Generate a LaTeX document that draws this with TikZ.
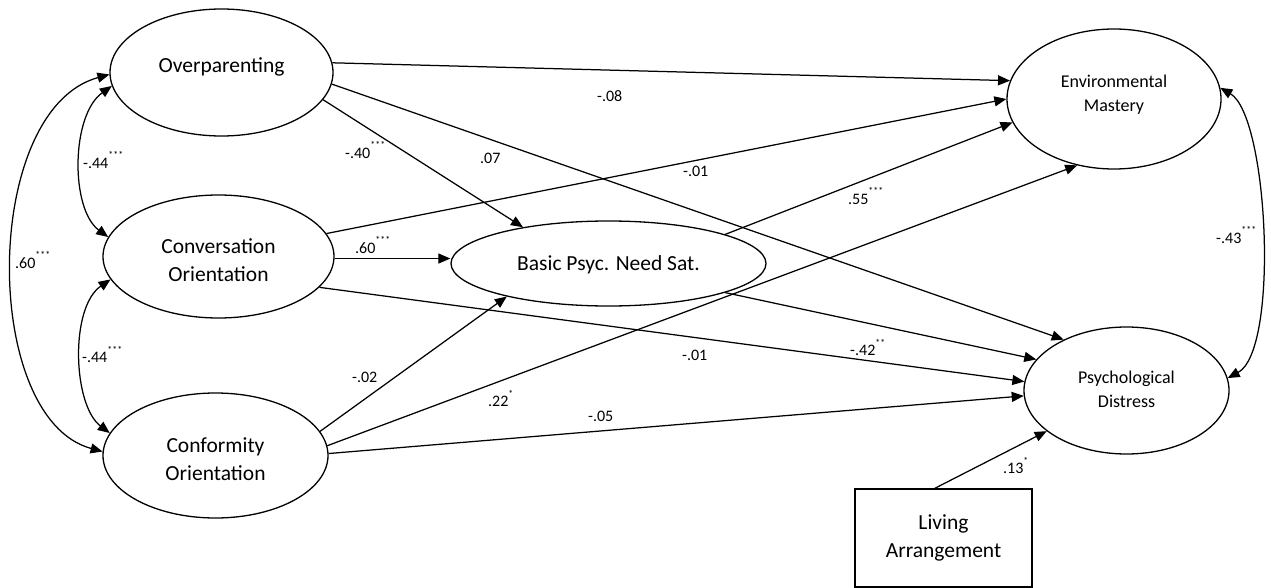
\documentclass[tikz,border=0pt]{standalone}
\usepackage{fontspec}
\setmainfont{Carlito}
\usetikzlibrary{shapes.geometric,arrows.meta}
\newcommand\sig[1]{\raisebox{9.5pt}{\fontsize{10}{10}\selectfont #1}}
\begin{document}
\begin{tikzpicture}[x=1pt,y=-1pt,
 ell/.style={draw,ellipse,line width=1.3pt,inner sep=0pt},
 txt/.style={align=center,inner sep=0pt},
 big/.style={font=\fontsize{21.5}{28}\selectfont},
 small/.style={font=\fontsize{18}{24}\selectfont},
 coef/.style={anchor=base west,inner sep=0pt,font=\fontsize{16}{16}\selectfont},
 arr/.style={line width=1.25pt,-{Triangle[length=12pt,width=10pt]}},
 dbl/.style={line width=1.25pt,{Triangle[length=12pt,width=10pt]}-{Triangle[length=12pt,width=10pt]}},
]
\fill[white] (0,0) rectangle (1271,588);
\useasboundingbox (0,0) rectangle (1271,588);

\node[ell,minimum width=223pt,minimum height=127pt] (over) at (221.5,72.5) {};
\node[ell,minimum width=231pt,minimum height=123pt] (conv) at (218.5,256.5) {};
\node[ell,minimum width=225pt,minimum height=125pt] (conf) at (215.5,455.5) {};
\node[ell,minimum width=315pt,minimum height=85pt] (bpn) at (608.5,263.5) {};
\node[ell,minimum width=214pt,minimum height=140pt] (em) at (1114,99) {};
\node[ell,minimum width=205pt,minimum height=127pt] (pd) at (1126.5,390.5) {};
\node[draw,line width=1.3pt,minimum width=177pt,minimum height=98pt,inner sep=0pt] (live) at (943.5,538) {};

\node[txt,big] (overT) at ([yshift=5.5pt]over.center) {Overparenting};
\node[txt,big] (convT) at ([yshift=-3.5pt]conv.center) {Conversation\\Orientation};
\node[txt,big] (confT) at ([yshift=-3.5pt]conf.center) {Conformity\\Orientation};
\node[txt,big] (bpnT) at ([yshift=-1.5pt]bpn.center) {Basic Psyc. Need Sat.};
\node[txt,small] (emT) at ([yshift=4pt]em.center) {Environmental\\Mastery};
\node[txt,small] (pdT) at ([yshift=1.5pt]pd.center) {Psychological\\Distress};
\node[txt,big] (liveT) at (live.center) {Living\\Arrangement};

\draw[arr] (over.5) -- (em.170.4);
\draw[arr] (over.-6.9) -- (pd.141.1);
\draw[arr] (over.-15) -- (bpn.157.1);
\draw[arr] (conv.12.6) -- (em.180);
\draw[arr] (conv.-1.5) -- (conv.-1.5 -| bpn.west);
\draw[arr] (conv.-17.6) -- (pd.175.3);
\draw[arr] (bpn.14.9) -- (em.193.4);
\draw[arr] (bpn.-14.4) -- (pd.161.4);
\draw[arr] (conf.13.6) -- (bpn.198.1);
\draw[arr] (conf.5.3) -- (em.241.2);
\draw[arr] (conf.1.25) -- (pd.183.6);
\draw[arr] (live.100) -- (pd.207.3);

\draw[dbl] (over.181) .. controls +(-128,35) and +(-122,-33) .. (conf.178.7);
\draw[dbl] (over.187) .. controls +(-41,29) and +(-38,-28) .. (conv.170.7);
\draw[dbl] (conv.192.9) .. controls +(-41,28) and +(-37,-28) .. (conf.168.7);
\draw[dbl] (em.6.2) .. controls +(48,28) and +(52,-28) .. (pd.7);

\node[coef] (c1) at (83,168.5) {-.44\sig{***}};
\node[coef] (c2) at (15,268.5) {.60\sig{***}};
\node[coef] (c3) at (82,362.5) {-.44\sig{***}};
\node[coef] (c4) at (345,158.5) {-.40\sig{***}};
\node[coef] (c5) at (355,253.5) {.60\sig{***}};
\node[coef] (c6) at (597,101.5) {-.08};
\node[coef] (c7) at (480,163.5) {.07};
\node[coef] (c8) at (683,176.5) {-.01};
\node[coef] (c9) at (848,204.5) {.55\sig{***}};
\node[coef] (c10) at (1216,243.5) {-.43\sig{***}};
\node[coef] (c11) at (850,355.5) {-.42\sig{**}};
\node[coef] (c12) at (682,360.5) {-.01};
\node[coef] (c13) at (488,406.5) {.22\sig{*}};
\node[coef] (c14) at (588,421.5) {-.05};
\node[coef] (c15) at (352,382.5) {-.02};
\node[coef] (c16) at (1003,473.5) {.13\sig{*}};
\end{tikzpicture}
\end{document}
